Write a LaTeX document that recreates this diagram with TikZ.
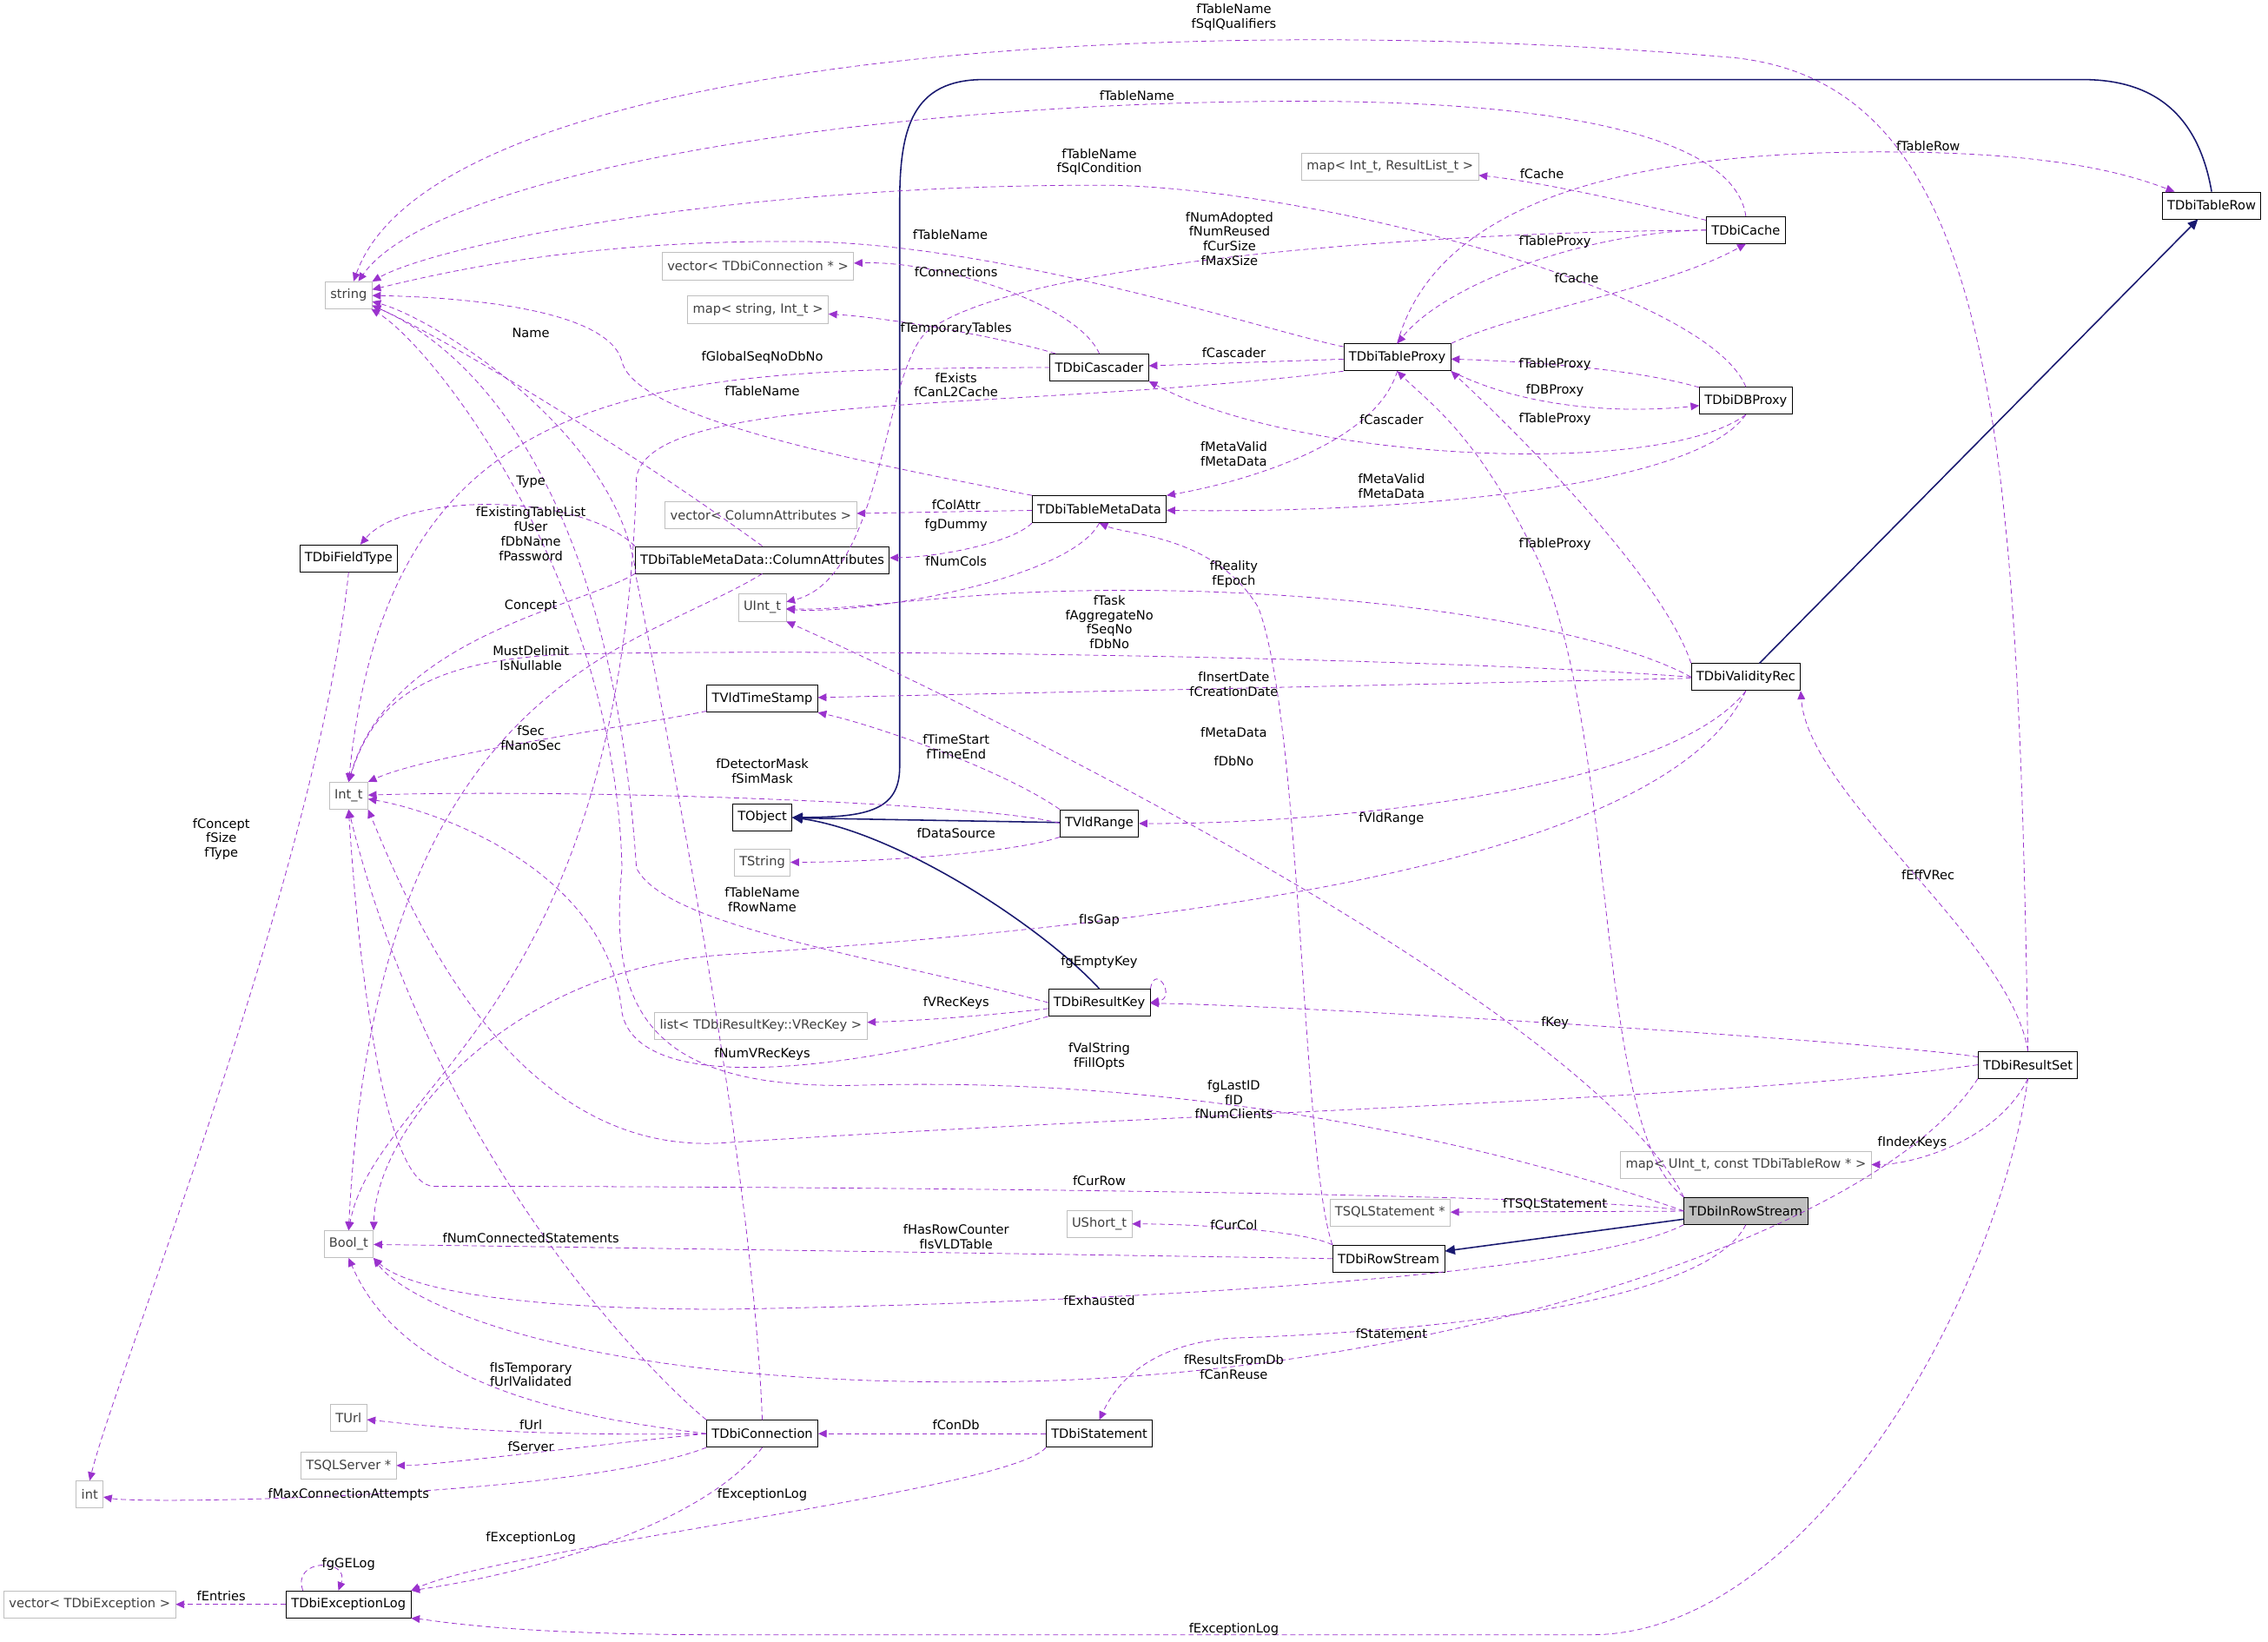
\documentclass[tikz,border=0pt]{standalone}
\usepackage{fontspec}
\setmainfont{DejaVu Sans}
\usetikzlibrary{arrows.meta}
\definecolor{dep}{HTML}{9A32CD}
\definecolor{inh}{HTML}{191970}
\definecolor{grayb}{HTML}{BFBFBF}
\tikzset{
  cls/.style={draw=black,fill=white,minimum height=0.56cm,inner xsep=3pt,inner ysep=1pt,font=\fontsize{7.5}{9}\selectfont},
  ext/.style={cls,draw=grayb,text=black!75},
  cur/.style={cls,fill=grayb},
  lbl/.style={align=center,inner sep=0pt,font=\fontsize{7.5}{8.6}\selectfont},
  use/.style={draw=dep,dashed,dash pattern=on 3pt off 2pt,-{Triangle[length=5pt,width=4.5pt]}},
  inherit/.style={draw=inh,thick,-{Triangle[length=6pt,width=5.5pt,fill=inh]}},
}
\begin{document}
\begin{tikzpicture}[x=0.03cm,y=-0.03cm]
\useasboundingbox[fill=white] (0,0) rectangle (1568,1135);
% classes
\node[ext] (string) at (241,204) {string};
\node[ext] (mapIR) at (961,115) {map< Int\_t, ResultList\_t >};
\node[cls] (TDbiCache) at (1207,159) {TDbiCache};
\node[cls] (TDbiTableRow) at (1529,142) {TDbiTableRow};
\node[ext] (vecConn) at (524,184) {vector< TDbiConnection * >};
\node[ext] (mapSI) at (524,214) {map< string, Int\_t >};
\node[cls] (TDbiCascader) at (760,254) {TDbiCascader};
\node[cls] (TDbiTableProxy) at (966,247) {TDbiTableProxy};
\node[cls] (TDbiDBProxy) at (1207,277) {TDbiDBProxy};
\node[ext] (vecCA) at (526,356) {vector< ColumnAttributes >};
\node[cls] (TDbiTableMetaData) at (760,352) {TDbiTableMetaData};
\node[cls] (TDbiFieldType) at (241,386) {TDbiFieldType};
\node[cls] (ColAttr) at (527,387) {TDbiTableMetaData::ColumnAttributes};
\node[ext] (UInt) at (527,420) {UInt\_t};
\node[cls] (TDbiValidityRec) at (1207,468) {TDbiValidityRec};
\node[cls] (TVldTimeStamp) at (527,483) {TVldTimeStamp};
\node[ext] (Int) at (241,550) {Int\_t};
\node[cls] (TObject) at (527,565) {TObject};
\node[cls] (TVldRange) at (760,569) {TVldRange};
\node[ext] (TString) at (527,596) {TString};
\node[cls] (TDbiResultKey) at (760,693) {TDbiResultKey};
\node[ext] (listVR) at (526,709) {list< TDbiResultKey::VRecKey >};
\node[cls] (TDbiResultSet) at (1402,736) {TDbiResultSet};
\node[ext] (mapIdx) at (1207,805) {map< UInt\_t, const TDbiTableRow * >};
\node[ext] (TSQLStmt) at (961,838) {TSQLStatement *};
\node[cur] (TDbiInRowStream) at (1207,837) {TDbiInRowStream};
\node[ext] (UShort) at (760,846) {UShort\_t};
\node[ext] (Bool) at (241,860) {Bool\_t};
\node[cls] (TDbiRowStream) at (960,870) {TDbiRowStream};
\node[ext] (TUrl) at (241,980) {TUrl};
\node[cls] (TDbiConnection) at (527,991) {TDbiConnection};
\node[cls] (TDbiStatement) at (760,991) {TDbiStatement};
\node[ext] (TSQLServer) at (241,1013) {TSQLServer *};
\node[ext] (int) at (62,1033) {int};
\node[ext] (vecEx) at (62,1109) {vector< TDbiException >};
\node[cls] (TDbiExceptionLog) at (241,1109) {TDbiExceptionLog};
% inheritance
\draw[inherit] (TDbiTableRow.north) .. controls (1520,80) and (1490,55) .. (1440,55) -- (680,55) .. controls (630,55) and (622,90) .. (622,140) -- (622,530) .. controls (622,560) and (600,565) .. (TObject.east);
\draw[inherit] (TDbiValidityRec) -- (TDbiTableRow);
\draw[inherit] (TVldRange) -- (TObject);
\draw[inherit] (TDbiResultKey.north) .. controls (720,640) and (620,575) .. (TObject.east);
\draw[inherit] (TDbiInRowStream) -- (TDbiRowStream);
% usage
\draw[use] (TDbiResultSet.north) .. controls (1395,300) and (1380,60) .. (1200,40) .. controls (800,5) and (300,40) .. (string);
\draw[use] (TDbiCache.north) .. controls (1200,100) and (1100,70) .. (900,70) .. controls (600,70) and (300,120) .. (string);
\draw[use] (TDbiDBProxy.north) .. controls (1180,200) and (900,128) .. (760,128) .. controls (500,128) and (300,170) .. (string);
\draw[use] (TDbiTableProxy) .. controls (880,230) and (700,170) .. (560,167) .. controls (400,165) and (300,190) .. (string);
\draw[use] (TDbiTableProxy.north) .. controls (990,150) and (1100,105) .. (1300,105) .. controls (1420,105) and (1470,120) .. (TDbiTableRow);
\draw[use] (TDbiCache) .. controls (1130,140) and (1060,125) .. (mapIR);
\draw[use] (TDbiCache) .. controls (1000,160) and (700,180) .. (640,230) .. controls (610,260) and (610,400) .. (UInt);
\draw[use] (TDbiTableProxy.north east) .. controls (1050,215) and (1150,200) .. (TDbiCache.south);
\draw[use] (TDbiCache.west) .. controls (1100,160) and (1000,195) .. (TDbiTableProxy.north);
\draw[use] (TDbiCascader.north) .. controls (745,210) and (650,180) .. (vecConn);
\draw[use] (TDbiCascader) .. controls (700,235) and (620,220) .. (mapSI);
\draw[use] (TDbiCascader.west) .. controls (450,255) and (270,260) .. (Int.north);
\draw[use] (TDbiTableProxy) -- (TDbiCascader);
\draw[use] (TDbiTableProxy.south east) .. controls (1060,285) and (1130,285) .. (TDbiDBProxy);
\draw[use] (TDbiDBProxy) .. controls (1130,255) and (1060,250) .. (TDbiTableProxy);
\draw[use] (TDbiTableProxy.south west) .. controls (700,285) and (450,270) .. (440,330) .. controls (430,700) and (260,750) .. (Bool.north);
\draw[use] (TDbiTableProxy.south) .. controls (950,310) and (850,335) .. (TDbiTableMetaData.north east);
\draw[use] (TDbiDBProxy.south) .. controls (1150,330) and (900,320) .. (TDbiCascader.south east);
\draw[use] (TDbiDBProxy.south) .. controls (1170,340) and (950,355) .. (TDbiTableMetaData);
\draw[use] (TDbiTableMetaData.north west) .. controls (600,320) and (440,290) .. (430,250) .. controls (420,210) and (300,205) .. (string);
\draw[use] (TDbiTableMetaData) -- (vecCA);
\draw[use] (TDbiTableMetaData.south west) .. controls (700,375) and (650,385) .. (ColAttr);
\draw[use] (TDbiTableMetaData.south) .. controls (740,400) and (600,425) .. (UInt);
\draw[use] (ColAttr.north) .. controls (420,300) and (300,230) .. (string);
\draw[use] (ColAttr.north west) .. controls (400,340) and (280,340) .. (TDbiFieldType);
\draw[use] (ColAttr.south west) .. controls (400,420) and (270,440) .. (Int.north);
\draw[use] (ColAttr.south) .. controls (440,450) and (260,470) .. (Bool.north);
\draw[use] (TDbiValidityRec.north west) .. controls (1150,400) and (1050,300) .. (TDbiTableProxy.south east);
\draw[use] (TDbiValidityRec.west) .. controls (1100,430) and (900,400) .. (700,410) .. controls (620,415) and (580,422) .. (UInt);
\draw[use] (TDbiValidityRec.west) .. controls (1000,455) and (600,448) .. (400,452) .. controls (300,455) and (260,480) .. (Int.north);
\draw[use] (TDbiValidityRec) -- (TVldTimeStamp);
\draw[use] (TDbiValidityRec.south) .. controls (1150,550) and (900,570) .. (TVldRange);
\draw[use] (TDbiValidityRec.south) .. controls (1150,600) and (800,640) .. (500,660) .. controls (350,670) and (260,780) .. (Bool.north east);
\draw[use] (TVldTimeStamp) .. controls (450,500) and (300,520) .. (Int.north east);
\draw[use] (TVldRange.west) .. controls (680,555) and (400,545) .. (Int);
\draw[use] (TVldRange.north west) .. controls (690,530) and (600,500) .. (TVldTimeStamp.south east);
\draw[use] (TVldRange.south west) .. controls (700,590) and (600,596) .. (TString);
\draw[use] (TDbiResultKey.west) .. controls (600,660) and (460,640) .. (440,600) .. controls (420,300) and (300,230) .. (string);
\draw[use] (TDbiResultKey.north east) to[out=80,in=10,looseness=5] (TDbiResultKey.east);
\draw[use] (TDbiResultKey) .. controls (700,700) and (650,705) .. (listVR);
\draw[use] (TDbiResultKey.south west) .. controls (550,750) and (440,750) .. (430,700) .. controls (420,600) and (300,560) .. (Int);
\draw[use] (TDbiResultSet) .. controls (1300,720) and (900,695) .. (TDbiResultKey);
\draw[use] (TDbiResultSet.north) .. controls (1390,650) and (1250,550) .. (TDbiValidityRec.south east);
\draw[use] (TDbiResultSet.west) .. controls (1200,760) and (800,770) .. (500,790) .. controls (350,800) and (280,620) .. (Int.south east);
\draw[use] (TDbiResultSet.south) .. controls (1380,790) and (1320,805) .. (mapIdx);
\draw[use] (TDbiResultSet.south west) .. controls (1300,850) and (1000,950) .. (700,955) .. controls (400,960) and (280,900) .. (Bool.south east);
\draw[use] (TDbiResultSet.south) .. controls (1380,900) and (1250,1130) .. (1100,1130) -- (500,1130) .. controls (350,1130) and (300,1120) .. (TDbiExceptionLog.south east);
\draw[use] (TDbiInRowStream.north west) .. controls (1100,780) and (1120,500) .. (1060,380) .. controls (1020,300) and (990,280) .. (TDbiTableProxy.south);
\draw[use] (TDbiInRowStream.north west) .. controls (1100,700) and (700,500) .. (UInt.south east);
\draw[use] (TDbiInRowStream.west) .. controls (1000,780) and (800,745) .. (600,750) .. controls (450,755) and (420,700) .. (430,600) .. controls (425,400) and (300,240) .. (string);
\draw[use] (TDbiInRowStream.west) .. controls (1100,825) and (600,820) .. (300,820) .. controls (270,820) and (250,700) .. (Int.south);
\draw[use] (TDbiInRowStream) -- (TSQLStmt);
\draw[use] (TDbiInRowStream.south west) .. controls (1100,880) and (800,900) .. (500,905) .. controls (350,905) and (280,890) .. (Bool.south east);
\draw[use] (TDbiInRowStream.south) .. controls (1180,900) and (1000,920) .. (850,925) .. controls (790,930) and (770,960) .. (TDbiStatement.north);
\draw[use] (TDbiRowStream.north west) .. controls (900,800) and (900,500) .. (870,420) .. controls (840,370) and (780,370) .. (TDbiTableMetaData.south);
\draw[use] (TDbiRowStream.north west) .. controls (900,850) and (820,846) .. (UShort);
\draw[use] (TDbiRowStream.west) .. controls (800,868) and (400,862) .. (Bool);
\draw[use] (TDbiConnection.north) .. controls (520,800) and (460,500) .. (440,400) .. controls (430,300) and (300,220) .. (string);
\draw[use] (TDbiConnection.north west) .. controls (450,950) and (300,800) .. (Int.south);
\draw[use] (TDbiConnection.west) .. controls (400,980) and (280,960) .. (Bool.south);
\draw[use] (TDbiConnection.west) .. controls (350,993) and (290,985) .. (TUrl);
\draw[use] (TDbiConnection.west) .. controls (400,1000) and (300,1013) .. (TSQLServer);
\draw[use] (TDbiConnection.south west) .. controls (400,1035) and (100,1040) .. (int);
\draw[use] (TDbiConnection.south) .. controls (480,1060) and (350,1090) .. (TDbiExceptionLog.north east);
\draw[use] (TDbiStatement) -- (TDbiConnection);
\draw[use] (TDbiStatement.south west) .. controls (700,1030) and (350,1070) .. (TDbiExceptionLog.north east);
\draw[use] ([xshift=10pt]TDbiExceptionLog.north west) to[out=110,in=70,looseness=2.5] ([xshift=-6pt]TDbiExceptionLog.north);
\draw[use] (TDbiExceptionLog) -- (vecEx);
\draw[use] (TDbiFieldType.south) .. controls (220,600) and (80,950) .. (int.north);
% labels
\node[lbl] (l1) at (853,12) {fTableName\\fSqlQualifiers};
\node[lbl] (l2) at (786,66) {fTableName};
\node[lbl] (l3) at (760,112) {fTableName\\fSqlCondition};
\node[lbl] (l4) at (657,162) {fTableName};
\node[lbl] (l5) at (1333,101) {fTableRow};
\node[lbl] (l6) at (1066,120) {fCache};
\node[lbl] (l7) at (850,165) {fNumAdopted\\fNumReused\\fCurSize\\fMaxSize};
\node[lbl] (l8) at (1075,167) {fTableProxy};
\node[lbl] (l9) at (1090,192) {fCache};
\node[lbl] (l10) at (661,188) {fConnections};
\node[lbl] (l11) at (661,227) {fTemporaryTables};
\node[lbl] (l12) at (527,247) {fGlobalSeqNoDbNo};
\node[lbl] (l13) at (853,244) {fCascader};
\node[lbl] (l14) at (1075,252) {fTableProxy};
\node[lbl] (l15) at (1075,270) {fDBProxy};
\node[lbl] (l16) at (661,266) {fExists\\fCanL2Cache};
\node[lbl] (l17) at (527,270) {fTableName};
\node[lbl] (l18) at (367,230) {Name};
\node[lbl] (l19) at (1075,290) {fTableProxy};
\node[lbl] (l20) at (962,290) {fCascader};
\node[lbl] (l21) at (853,314) {fMetaValid\\fMetaData};
\node[lbl] (l22) at (962,336) {fMetaValid\\fMetaData};
\node[lbl] (l23) at (367,333) {Type};
\node[lbl] (l24) at (661,349) {fColAttr};
\node[lbl] (l25) at (661,363) {fgDummy};
\node[lbl] (l26) at (367,369) {fExistingTableList\\fUser\\fDbName\\fPassword};
\node[lbl] (l27) at (661,388) {fNumCols};
\node[lbl] (l28) at (1075,376) {fTableProxy};
\node[lbl] (l29) at (853,397) {fReality\\fEpoch};
\node[lbl] (l30) at (367,419) {Concept};
\node[lbl] (l31) at (767,430) {fTask\\fAggregateNo\\fSeqNo\\fDbNo};
\node[lbl] (l32) at (367,455) {MustDelimit\\IsNullable};
\node[lbl] (l33) at (853,473) {fInsertDate\\fCreationDate};
\node[lbl] (l34) at (853,506) {fMetaData};
\node[lbl] (l35) at (367,510) {fSec\\fNanoSec};
\node[lbl] (l36) at (661,516) {fTimeStart\\fTimeEnd};
\node[lbl] (l37) at (853,526) {fDbNo};
\node[lbl] (l38) at (527,533) {fDetectorMask\\fSimMask};
\node[lbl] (l39) at (962,566) {fVldRange};
\node[lbl] (l40) at (661,576) {fDataSource};
\node[lbl] (l41) at (153,580) {fConcept\\fSize\\fType};
\node[lbl] (l42) at (1333,605) {fEffVRec};
\node[lbl] (l43) at (527,622) {fTableName\\fRowName};
\node[lbl] (l44) at (760,636) {fIsGap};
\node[lbl] (l45) at (760,665) {fgEmptyKey};
\node[lbl] (l46) at (661,693) {fVRecKeys};
\node[lbl] (l47) at (1075,707) {fKey};
\node[lbl] (l48) at (527,729) {fNumVRecKeys};
\node[lbl] (l49) at (760,730) {fValString\\fFillOpts};
\node[lbl] (l50) at (853,760) {fgLastID\\fID\\fNumClients};
\node[lbl] (l51) at (1322,790) {fIndexKeys};
\node[lbl] (l52) at (760,816) {fCurRow};
\node[lbl] (l53) at (1075,832) {fTSQLStatement};
\node[lbl] (l54) at (853,847) {fCurCol};
\node[lbl] (l55) at (661,855) {fHasRowCounter\\fIsVLDTable};
\node[lbl] (l56) at (367,856) {fNumConnectedStatements};
\node[lbl] (l57) at (760,899) {fExhausted};
\node[lbl] (l58) at (962,922) {fStatement};
\node[lbl] (l59) at (853,945) {fResultsFromDb\\fCanReuse};
\node[lbl] (l60) at (367,950) {fIsTemporary\\fUrlValidated};
\node[lbl] (l61) at (661,985) {fConDb};
\node[lbl] (l62) at (367,985) {fUrl};
\node[lbl] (l63) at (367,1000) {fServer};
\node[lbl] (l64) at (241,1033) {fMaxConnectionAttempts};
\node[lbl] (l65) at (527,1033) {fExceptionLog};
\node[lbl] (l66) at (367,1063) {fExceptionLog};
\node[lbl] (l67) at (241,1081) {fgGELog};
\node[lbl] (l68) at (153,1103) {fEntries};
\node[lbl] (l69) at (853,1126) {fExceptionLog};
\end{tikzpicture}
\end{document}
